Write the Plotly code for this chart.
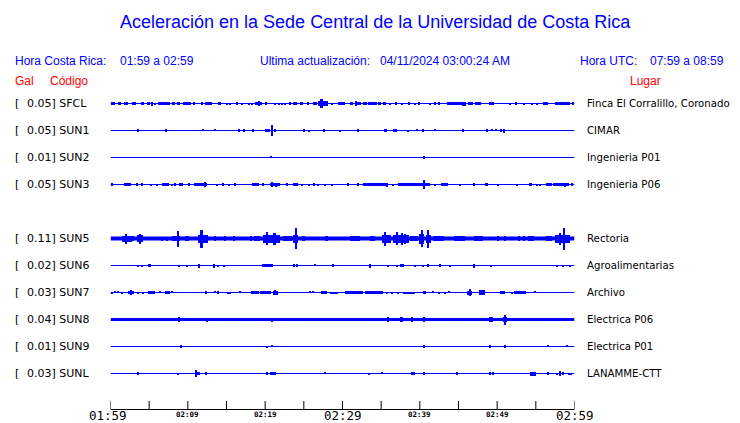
import plotly.graph_objects as go

W, H = 740, 423

# ---------------- data ----------------
codes = ["SFCL", "SUN1", "SUN2", "SUN3", "SUN5", "SUN6", "SUN7", "SUN8", "SUN9", "SUNL"]
gal_max = [0.05, 0.05, 0.01, 0.05, 0.11, 0.02, 0.03, 0.04, 0.01, 0.03]
places = ["Finca El Corralillo, Coronado", "CIMAR", "Ingenieria P01", "Ingenieria P06",
          "Rectoria", "Agroalimentarias", "Archivo", "Electrica P06", "Electrica P01", "LANAMME-CTT"]

# minutes after 01:59 and their labels
tick_minutes = [0, 5, 10, 15, 20, 25, 30, 35, 40, 45, 50, 55, 60]
tick_labels = ["01:59", "", "02:09", "", "02:19", "", "02:29", "", "02:39", "", "02:49", "", "02:59"]

title_text = "Aceleración en la Sede Central de la Universidad de Costa Rica"
hora_cr = "01:59 a 02:59"
hora_utc = "07:59 a 08:59"
actualizacion = "04/11/2024 03:00:24 AM"

# signal envelopes: (start minute, end minute, half amplitude)
ev_SFCL = [(0.0, 0.5, 1.5), (0.95, 1.3, 1.3), (1.7, 2.25, 1.3), (2.75, 3.25, 1.3), (3.85, 4.25, 1.3),
           (4.6, 5.05, 1.3), (5.3, 5.45, 2.0), (5.7, 5.8, 1.0), (6.1, 7.6, 1.3), (7.85, 8.25, 1.3),
           (8.5, 8.9, 1.3), (9.35, 10.35, 1.3), (10.65, 10.85, 1.3), (11.65, 11.95, 1.3), (12.15, 13.1, 1.3),
           (13.9, 14.2, 1.3), (14.95, 15.05, 1.0), (15.4, 15.5, 1.0), (16.15, 16.45, 1.3), (16.9, 17.0, 1.0),
           (17.75, 17.85, 1.0), (18.15, 18.25, 1.0), (18.6, 19.55, 1.5), (19.1, 19.2, 2.2), (20.0, 20.15, 1.3),
           (21.1, 21.2, 1.0), (21.65, 21.75, 1.0), (22.1, 22.2, 1.0), (22.5, 22.6, 1.0), (23.1, 23.2, 1.5),
           (23.55, 24.0, 1.3), (24.4, 24.85, 1.3), (25.3, 25.6, 1.3), (26.15, 26.6, 1.3), (26.8, 28.0, 2.5),
           (27.15, 27.35, 4.7), (28.5, 28.6, 1.0), (29.4, 30.25, 1.3), (30.9, 31.35, 1.3), (31.6, 32.3, 1.5),
           (31.65, 31.75, 2.3), (32.6, 33.05, 1.3), (33.25, 34.35, 1.5), (34.55, 34.9, 1.3), (35.3, 35.5, 1.3),
           (36.05, 36.15, 1.0), (36.75, 36.85, 1.5), (37.55, 37.65, 1.0), (38.5, 38.6, 1.3), (39.3, 39.4, 1.0),
           (39.8, 39.9, 1.3), (41.2, 41.3, 1.0), (41.85, 41.95, 1.3), (42.3, 42.4, 1.3), (43.4, 45.45, 1.3),
           (45.45, 45.9, 2.0), (46.2, 46.85, 1.5), (47.1, 47.9, 1.3), (48.9, 49.5, 1.3), (51.55, 51.65, 1.0),
           (52.25, 52.5, 1.3), (53.3, 53.4, 1.0), (54.4, 54.5, 1.0), (55.0, 55.1, 1.0), (55.9, 56.55, 1.3),
           (57.4, 59.35, 1.3), (59.75, 59.85, 1.3)]
ev_SUN1 = [(3.5, 3.6, 1.2), (7.0, 7.1, 1.2), (11.9, 12.0, 0.8), (13.45, 13.55, 0.8), (16.45, 16.55, 1.2),
           (17.2, 17.3, 1.2), (18.25, 18.35, 1.2), (19.9, 20.25, 1.3), (20.4, 20.5, 1.3), (20.8, 20.95, 5.3),
           (21.1, 21.3, 1.5), (24.95, 25.05, 1.2), (25.6, 25.7, 1.0), (27.55, 27.65, 1.2), (29.6, 29.7, 1.0),
           (31.75, 32.05, 1.3), (35.25, 35.65, 1.5), (36.5, 36.6, 1.3), (36.8, 36.9, 1.3), (38.4, 38.5, 1.0),
           (39.5, 39.6, 0.8), (40.35, 40.45, 1.2), (41.85, 41.95, 0.8), (45.5, 45.6, 1.2), (48.55, 48.65, 1.2),
           (49.2, 49.3, 0.8), (49.7, 49.8, 0.8), (50.35, 50.45, 1.2), (50.7, 50.95, 2.0)]
ev_SUN2 = [(20.7, 20.8, 0.8), (40.4, 40.5, 1.5)]
ev_SUN3 = [(0.05, 0.2, 1.3), (1.7, 2.6, 1.3), (3.3, 3.4, 1.3), (3.95, 4.05, 1.3), (5.15, 5.25, 1.0),
           (5.9, 6.0, 1.0), (6.55, 7.5, 1.3), (7.85, 7.95, 1.0), (8.25, 8.35, 1.3), (8.8, 9.35, 1.3),
           (9.9, 10.2, 1.3), (10.75, 12.35, 1.3), (12.1, 12.25, 2.3), (13.65, 13.75, 1.0), (14.4, 14.65, 1.3),
           (15.15, 15.25, 1.0), (16.0, 16.1, 1.3), (18.2, 19.15, 1.3), (19.65, 19.75, 1.3), (20.55, 21.85, 1.3),
           (20.75, 20.9, 2.3), (21.3, 21.4, 2.0), (22.7, 22.8, 1.3), (23.5, 24.15, 1.3), (24.6, 24.7, 1.0),
           (25.5, 25.6, 1.0), (26.25, 26.35, 1.3), (26.75, 26.85, 1.0), (27.6, 27.7, 1.0), (28.5, 28.6, 1.0),
           (30.65, 30.75, 1.3), (31.85, 31.95, 1.3), (32.6, 35.85, 1.3), (35.6, 35.7, 2.0), (36.45, 36.55, 1.0),
           (37.15, 41.25, 1.5), (40.35, 40.5, 4.3), (41.85, 41.95, 1.0), (42.65, 43.6, 1.3), (45.1, 45.2, 1.0),
           (46.95, 47.05, 1.3), (48.3, 48.8, 1.3), (50.05, 50.15, 1.0), (52.4, 52.5, 1.0), (54.05, 54.5, 1.3),
           (55.0, 55.1, 1.0), (55.45, 55.55, 1.0), (56.3, 57.0, 1.3), (57.2, 59.2, 1.5), (58.65, 58.8, 2.0),
           (59.55, 59.65, 1.3)]
ev_SUN5 = [(1.4, 2.7, 3.0), (1.9, 2.1, 5.0), (2.85, 2.95, 2.5), (3.3, 4.2, 3.5), (3.7, 3.9, 5.0),
           (6.55, 6.65, 2.0), (7.2, 7.3, 2.0), (7.85, 8.9, 2.3), (8.55, 8.7, 8.0), (9.55, 10.1, 2.5),
           (11.3, 12.5, 4.0), (11.6, 11.85, 9.0), (13.4, 13.5, 2.3), (14.7, 14.8, 2.3), (15.8, 15.9, 2.3),
           (18.0, 18.2, 2.5), (18.55, 19.3, 2.5), (19.7, 21.85, 4.0), (20.0, 20.3, 6.5), (20.9, 21.3, 6.0),
           (22.3, 23.35, 2.5), (23.5, 24.2, 4.0), (23.85, 24.0, 10.5), (24.65, 25.1, 2.3), (27.65, 28.1, 2.3),
           (30.9, 32.2, 2.3), (33.5, 34.15, 2.8), (35.0, 36.2, 4.0), (35.4, 35.6, 7.0), (36.5, 38.55, 4.0),
           (36.9, 37.05, 6.5), (37.5, 37.65, 6.0), (38.0, 38.1, 5.0), (38.65, 39.75, 2.8), (39.8, 40.5, 5.0),
           (40.2, 40.35, 8.5), (40.7, 41.4, 4.0), (40.95, 41.1, 9.0), (41.7, 43.0, 2.5), (44.3, 45.8, 2.3),
           (47.0, 48.15, 2.8), (50.05, 50.15, 2.3), (50.9, 51.0, 2.3), (52.65, 52.75, 2.3), (53.3, 53.4, 2.3),
           (53.95, 54.7, 2.5), (56.25, 57.0, 2.8), (57.4, 59.35, 4.0), (58.0, 58.15, 6.0), (58.55, 58.7, 11.0)]
ev_SUN6 = [(3.5, 3.6, 1.0), (3.9, 4.0, 1.0), (4.8, 5.2, 1.3), (8.75, 8.85, 1.0), (9.75, 9.85, 1.0),
           (11.25, 11.5, 2.0), (13.2, 13.45, 2.0), (13.75, 13.85, 1.0), (14.6, 14.7, 1.0), (19.5, 21.0, 1.3),
           (23.55, 23.65, 1.3), (23.95, 24.05, 1.3), (26.35, 26.45, 0.8), (28.6, 28.75, 1.7), (33.45, 33.6, 2.0),
           (35.75, 35.85, 1.0), (36.9, 37.0, 1.0), (37.35, 37.9, 1.3), (39.3, 39.4, 1.0), (40.35, 40.45, 1.0),
           (40.9, 41.05, 1.3), (42.5, 42.6, 1.7), (43.8, 43.9, 1.0), (46.95, 47.05, 2.0), (49.1, 49.2, 1.0),
           (57.6, 57.7, 1.0), (58.45, 58.55, 1.0), (59.3, 59.4, 1.0)]
ev_SUN7 = [(0.05, 0.15, 1.0), (0.5, 0.6, 0.8), (0.9, 1.0, 0.8), (1.35, 1.45, 1.0), (2.15, 3.0, 1.3),
           (2.55, 2.7, 2.3), (3.5, 3.6, 1.0), (4.15, 4.25, 1.0), (4.8, 5.7, 1.3), (6.3, 6.4, 0.8),
           (6.95, 7.6, 1.7), (7.8, 7.9, 0.8), (12.2, 12.3, 1.3), (13.4, 13.5, 0.8), (13.85, 13.95, 1.3),
           (15.05, 15.5, 1.0), (16.65, 16.75, 0.8), (18.1, 19.15, 1.3), (19.25, 20.75, 1.3), (20.9, 21.55, 2.0),
           (21.1, 21.25, 2.5), (25.7, 25.8, 0.8), (26.1, 26.2, 0.8), (27.2, 27.9, 1.3), (28.3, 29.4, 1.0),
           (30.25, 32.6, 1.3), (32.85, 35.2, 1.5), (35.6, 35.7, 1.0), (36.25, 36.35, 1.0), (37.1, 37.2, 1.0),
           (37.8, 39.3, 1.0), (40.35, 40.7, 1.3), (41.65, 41.75, 0.8), (42.3, 42.4, 1.0), (43.15, 43.25, 1.0),
           (43.6, 43.7, 0.8), (46.0, 46.7, 2.0), (46.3, 46.45, 3.3), (47.6, 48.4, 2.3), (50.3, 50.95, 1.3),
           (51.75, 51.85, 1.0), (52.1, 53.6, 1.3), (54.8, 54.9, 0.8)]
ev_SUN8 = [(8.75, 8.9, 2.3), (12.35, 12.45, 2.0), (20.75, 20.85, 2.0), (35.8, 35.9, 2.3), (37.35, 37.75, 2.7),
           (38.9, 39.05, 2.3), (40.35, 40.65, 2.7), (48.95, 49.05, 2.3), (49.25, 49.35, 2.3), (50.7, 51.2, 2.5),
           (50.9, 51.05, 5.0)]
ev_SUN9 = [(8.95, 9.05, 1.3), (20.1, 20.2, 1.0), (20.8, 20.9, 0.8), (40.35, 40.6, 1.3), (48.95, 49.05, 1.3),
           (50.9, 51.0, 1.3), (56.5, 56.6, 0.8), (58.95, 59.05, 0.8)]
ev_SUNL = [(3.5, 3.6, 1.3), (8.6, 8.7, 1.0), (10.9, 11.5, 1.7), (10.95, 11.1, 3.3), (12.2, 12.3, 1.3),
           (20.1, 20.2, 1.3), (20.55, 21.3, 1.7), (27.6, 27.7, 0.8), (33.25, 33.35, 1.0), (35.0, 35.1, 0.8),
           (38.85, 39.3, 1.3), (40.3, 40.6, 1.7), (44.65, 44.75, 1.3), (48.95, 49.05, 1.3), (49.4, 49.5, 1.3),
           (54.15, 54.9, 2.0), (56.5, 56.6, 1.3), (57.6, 57.7, 1.0), (58.05, 58.15, 2.7), (58.45, 58.55, 1.3),
           (59.1, 59.65, 1.0)]
events = [ev_SFCL, ev_SUN1, ev_SUN2, ev_SUN3, ev_SUN5, ev_SUN6, ev_SUN7, ev_SUN8, ev_SUN9, ev_SUNL]
# quiet-level trace thickness
base_level = [1.2, 1.2, 1.2, 1.2, 4.0, 1.2, 1.2, 3.0, 1.2, 1.2]

# ---------------- layout helpers ----------------
BLUE = "#0000ff"
RED = "#ff0000"
OFF = 8                    # page body margin of the browser
AX_Y = 409.5               # screen pixel row (centre) of the time axis
TICK_LEN = 8.5
X0_PX, X1_PX = 110.5, 574.5
ROW0, ROW_STEP = 103.5, 27


def row_y(i):
    slot = i if i < 4 else i + 1   # empty slot where SUN4 would be
    return ROW0 + ROW_STEP * slot


def px(x):
    return (x - OFF) / W


def py(y):
    return 1 - (y - OFF) / H


fig = go.Figure()

for i, code in enumerate(codes):
    yb = row_y(i)
    fig.add_trace(go.Scatter(x=[tick_minutes[0], tick_minutes[-1]], y=[yb, yb], mode="lines",
                             line=dict(color=BLUE, width=base_level[i]), hoverinfo="skip",
                             showlegend=False, cliponaxis=False))
    ev = events[i]
    xs = [(a + b) / 2 for a, b, _ in ev]
    ws = [max(b - a, 0.13) for a, b, _ in ev]
    bases = [yb - amp for _, _, amp in ev]
    hs = [2 * amp for _, _, amp in ev]
    fig.add_trace(go.Bar(x=xs, y=hs, base=bases, width=ws, marker=dict(color=BLUE, line=dict(width=0)),
                         hoverinfo="skip", showlegend=False))

ann = []


def txt(x, y, s, size, color, family, xanchor="left"):
    ann.append(dict(x=px(x), y=py(y), xref="paper", yref="paper", text=s, showarrow=False,
                    xanchor=xanchor, yanchor="middle", borderpad=0, borderwidth=0,
                    font=dict(size=size, color=color, family=family)))


HDR = "Liberation Sans, Arial, sans-serif"
LBL = "DejaVu Sans, sans-serif"
MONO = "DejaVu Sans Mono, monospace"

txt(375.5, 22, title_text, 18, BLUE, HDR, "center")
txt(15, 61, "Hora Costa Rica:", 12, BLUE, HDR)
txt(120, 61, hora_cr, 12, BLUE, HDR)
txt(260, 61, "Ultima actualización:", 12, BLUE, HDR)
txt(380, 61, actualizacion, 12, BLUE, HDR)
txt(580, 61, "Hora UTC:", 12, BLUE, HDR)
txt(650, 61, hora_utc, 12, BLUE, HDR)
txt(15, 81, "Gal", 12, RED, HDR)
txt(50, 81, "Código", 12, RED, HDR)
txt(630, 81, "Lugar", 12, RED, HDR)

for i, code in enumerate(codes):
    yb = row_y(i)
    txt(15, yb, "[", 11, "black", LBL)
    txt(27, yb, f"{gal_max[i]:.2f}] {code}", 11, "black", LBL)
    txt(587, yb, places[i], 10.2, "black", LBL)

for m, lab in zip(tick_minutes, tick_labels):
    if not lab:
        continue
    if m % 30 == 0:
        ann.append(dict(x=m, xref="x", y=py(415.7), yref="paper", text=lab, showarrow=False,
                        xanchor="center", yanchor="middle", borderpad=0, borderwidth=0,
                        xshift=-3 if m == tick_minutes[0] else 0,
                        font=dict(size=12.5, color="black", family=MONO)))
    else:
        ann.append(dict(x=m, xref="x", y=py(414), yref="paper", text=f"<b>{lab}</b>", showarrow=False,
                        xanchor="center", yanchor="middle", borderpad=0, borderwidth=0,
                        font=dict(size=7.5, color="black", family=MONO)))

# time axis: base line and tick marks at the tick minutes
shapes = [dict(type="line", xref="x", yref="paper", x0=tick_minutes[0], x1=tick_minutes[-1],
               y0=py(AX_Y), y1=py(AX_Y), line=dict(color="black", width=1), layer="above")]
for m in tick_minutes:
    shapes.append(dict(type="line", xref="x", yref="paper", x0=m, x1=m,
                       y0=py(AX_Y), y1=py(AX_Y - TICK_LEN), line=dict(color="black", width=1),
                       layer="above"))

fig.update_layout(
    width=W, height=H, autosize=False,
    margin=dict(l=0, r=0, t=0, b=0, pad=0),
    paper_bgcolor="white", plot_bgcolor="white",
    barmode="overlay", bargap=0,
    annotations=ann, shapes=shapes,
    xaxis=dict(domain=[px(X0_PX), px(X1_PX)], range=[tick_minutes[0], tick_minutes[-1]],
               showgrid=False, zeroline=False, showline=False, ticks="",
               showticklabels=False, fixedrange=True),
    yaxis=dict(domain=[py(AX_Y), 1], range=[AX_Y, OFF], visible=False, fixedrange=True),
)

fig.write_html("out.html")
